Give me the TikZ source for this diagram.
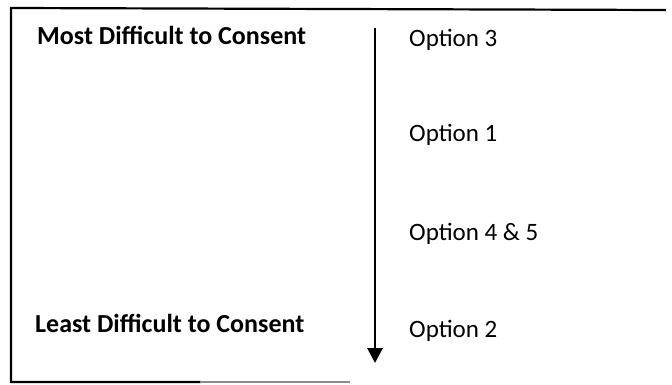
\documentclass[tikz,border=0pt]{standalone}
\usepackage{fontspec}
\setmainfont{Carlito}
\usetikzlibrary{arrows.meta}
\begin{document}
\begin{tikzpicture}[x=1pt,y=-1pt,
  lbl/.style={anchor=base west,inner sep=0pt,font=\fontsize{26}{30}\selectfont\bfseries},
  opt/.style={anchor=base west,inner sep=0pt,font=\fontsize{25}{30}\selectfont},
  frame/.style={line width=2.2pt,line cap=rect}]
\useasboundingbox (0,0) rectangle (672,385);
\coordinate (tl) at (11,8);
\coordinate (tr) at (665,10);
\coordinate (bl) at (11,382);
\coordinate (bm) at (200,382);
\coordinate (br) at (350,382);
\draw[frame] (tr) -- (tl) -- (bl) -- (bm);
\draw[line width=1.6pt,black!45] (bm) -- (br);
\coordinate (atop) at (375,28);
\coordinate (abot) at (375,363);
\draw[line width=2.8pt,-{Triangle[length=15pt,width=15pt]}] (atop) -- (abot);
\node[lbl] (most) at (37,45) {Most Difficult to Consent};
\node[lbl] (least) at (35,332) {Least Difficult to Consent};
\node[opt] (o3) at (409,47) {Option 3};
\node[opt] (o1) at (409,142) {Option 1};
\node[opt] (o45) at (409,240) {Option 4 \& 5};
\node[opt] (o2) at (409,337) {Option 2};
\end{tikzpicture}
\end{document}
